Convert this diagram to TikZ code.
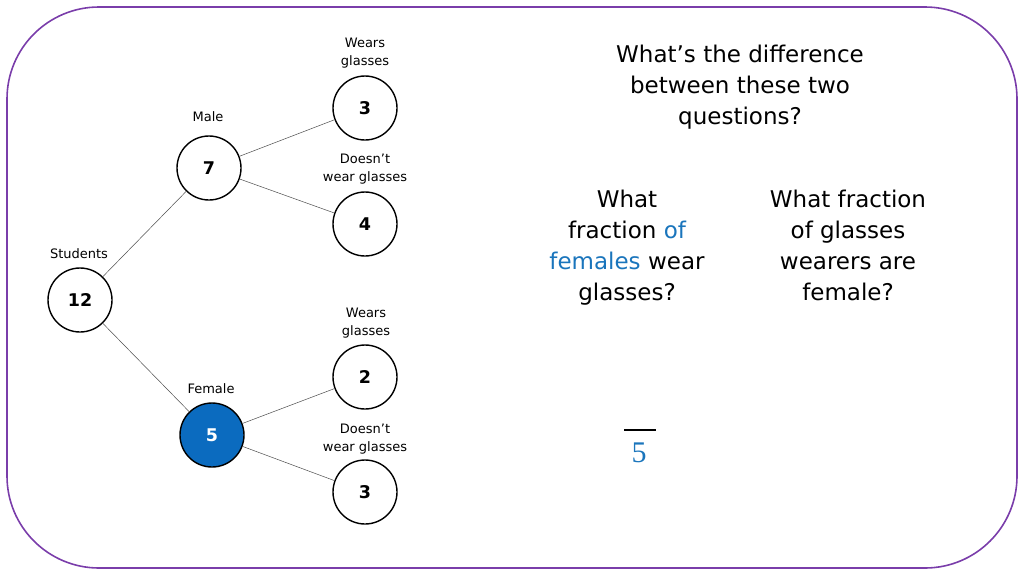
\documentclass[tikz,border=0pt]{standalone}
\usepackage{fontspec}
\setmainfont{DejaVu Sans}
\newfontfamily\serifnum{Liberation Serif}
\definecolor{frame}{HTML}{7A3DAA}
\definecolor{fblue}{HTML}{0B6BBF}
\definecolor{tblue}{HTML}{1A75BC}
\begin{document}
\begin{tikzpicture}[x=1pt,y=-1pt,
  circ/.style={circle,draw=black,line width=1.4pt,minimum size=64pt,inner sep=0pt,font=\fontsize{17.5}{20}\selectfont\bfseries},
  lbl/.style={align=center,font=\fontsize{13}{18}\selectfont},
  edge/.style={draw=black!70,line width=0.5pt},
  big/.style={align=center,font=\fontsize{23}{31}\selectfont}]
\useasboundingbox (0,0) rectangle (1024,576);
\draw[frame,line width=1.6pt,rounded corners=92pt] (7,7) rectangle (1017,568);
\node[circ] (s) at (80,300) {12};
\node[circ] (m) at (209,168) {7};
\node[circ,fill=fblue,text=white] (f) at (212,435) {5};
\node[circ] (mw) at (365,108) {3};
\node[circ] (mn) at (365,224) {4};
\node[circ] (fw) at (365,377) {2};
\node[circ] (fn) at (365,492) {3};
\draw[edge] (s) -- (m);
\draw[edge] (s) -- (f);
\draw[edge] (m) -- (mw);
\draw[edge] (m) -- (mn);
\draw[edge] (f) -- (fw);
\draw[edge] (f) -- (fn);
\node[lbl] (l1) at (365,53) {Wears\\glasses};
\node[lbl] (l2) at (208,117) {Male};
\node[lbl] (l3) at (365,169) {Doesn’t\\wear glasses};
\node[lbl] (l4) at (79,254) {Students};
\node[lbl] (l5) at (366,323) {Wears\\glasses};
\node[lbl] (l6) at (211,389) {Female};
\node[lbl] (l7) at (365,439) {Doesn’t\\wear glasses};
\node[big] (q) at (740,87) {What’s the difference\\between these two\\questions?};
\node[big] (q1) at (627,248) {What\\fraction \textcolor{tblue}{of}\\\textcolor{tblue}{females} wear\\glasses?};
\node[big] (q2) at (848,245) {What fraction\\of glasses\\wearers are\\female?};
\coordinate (b1) at (624,430);
\coordinate (b2) at (656,430);
\draw[black,line width=1.6pt] (b1) -- (b2);
\node[text=tblue,font=\serifnum\fontsize{30}{30}\selectfont] (five) at (639,453) {5};
\end{tikzpicture}
\end{document}
